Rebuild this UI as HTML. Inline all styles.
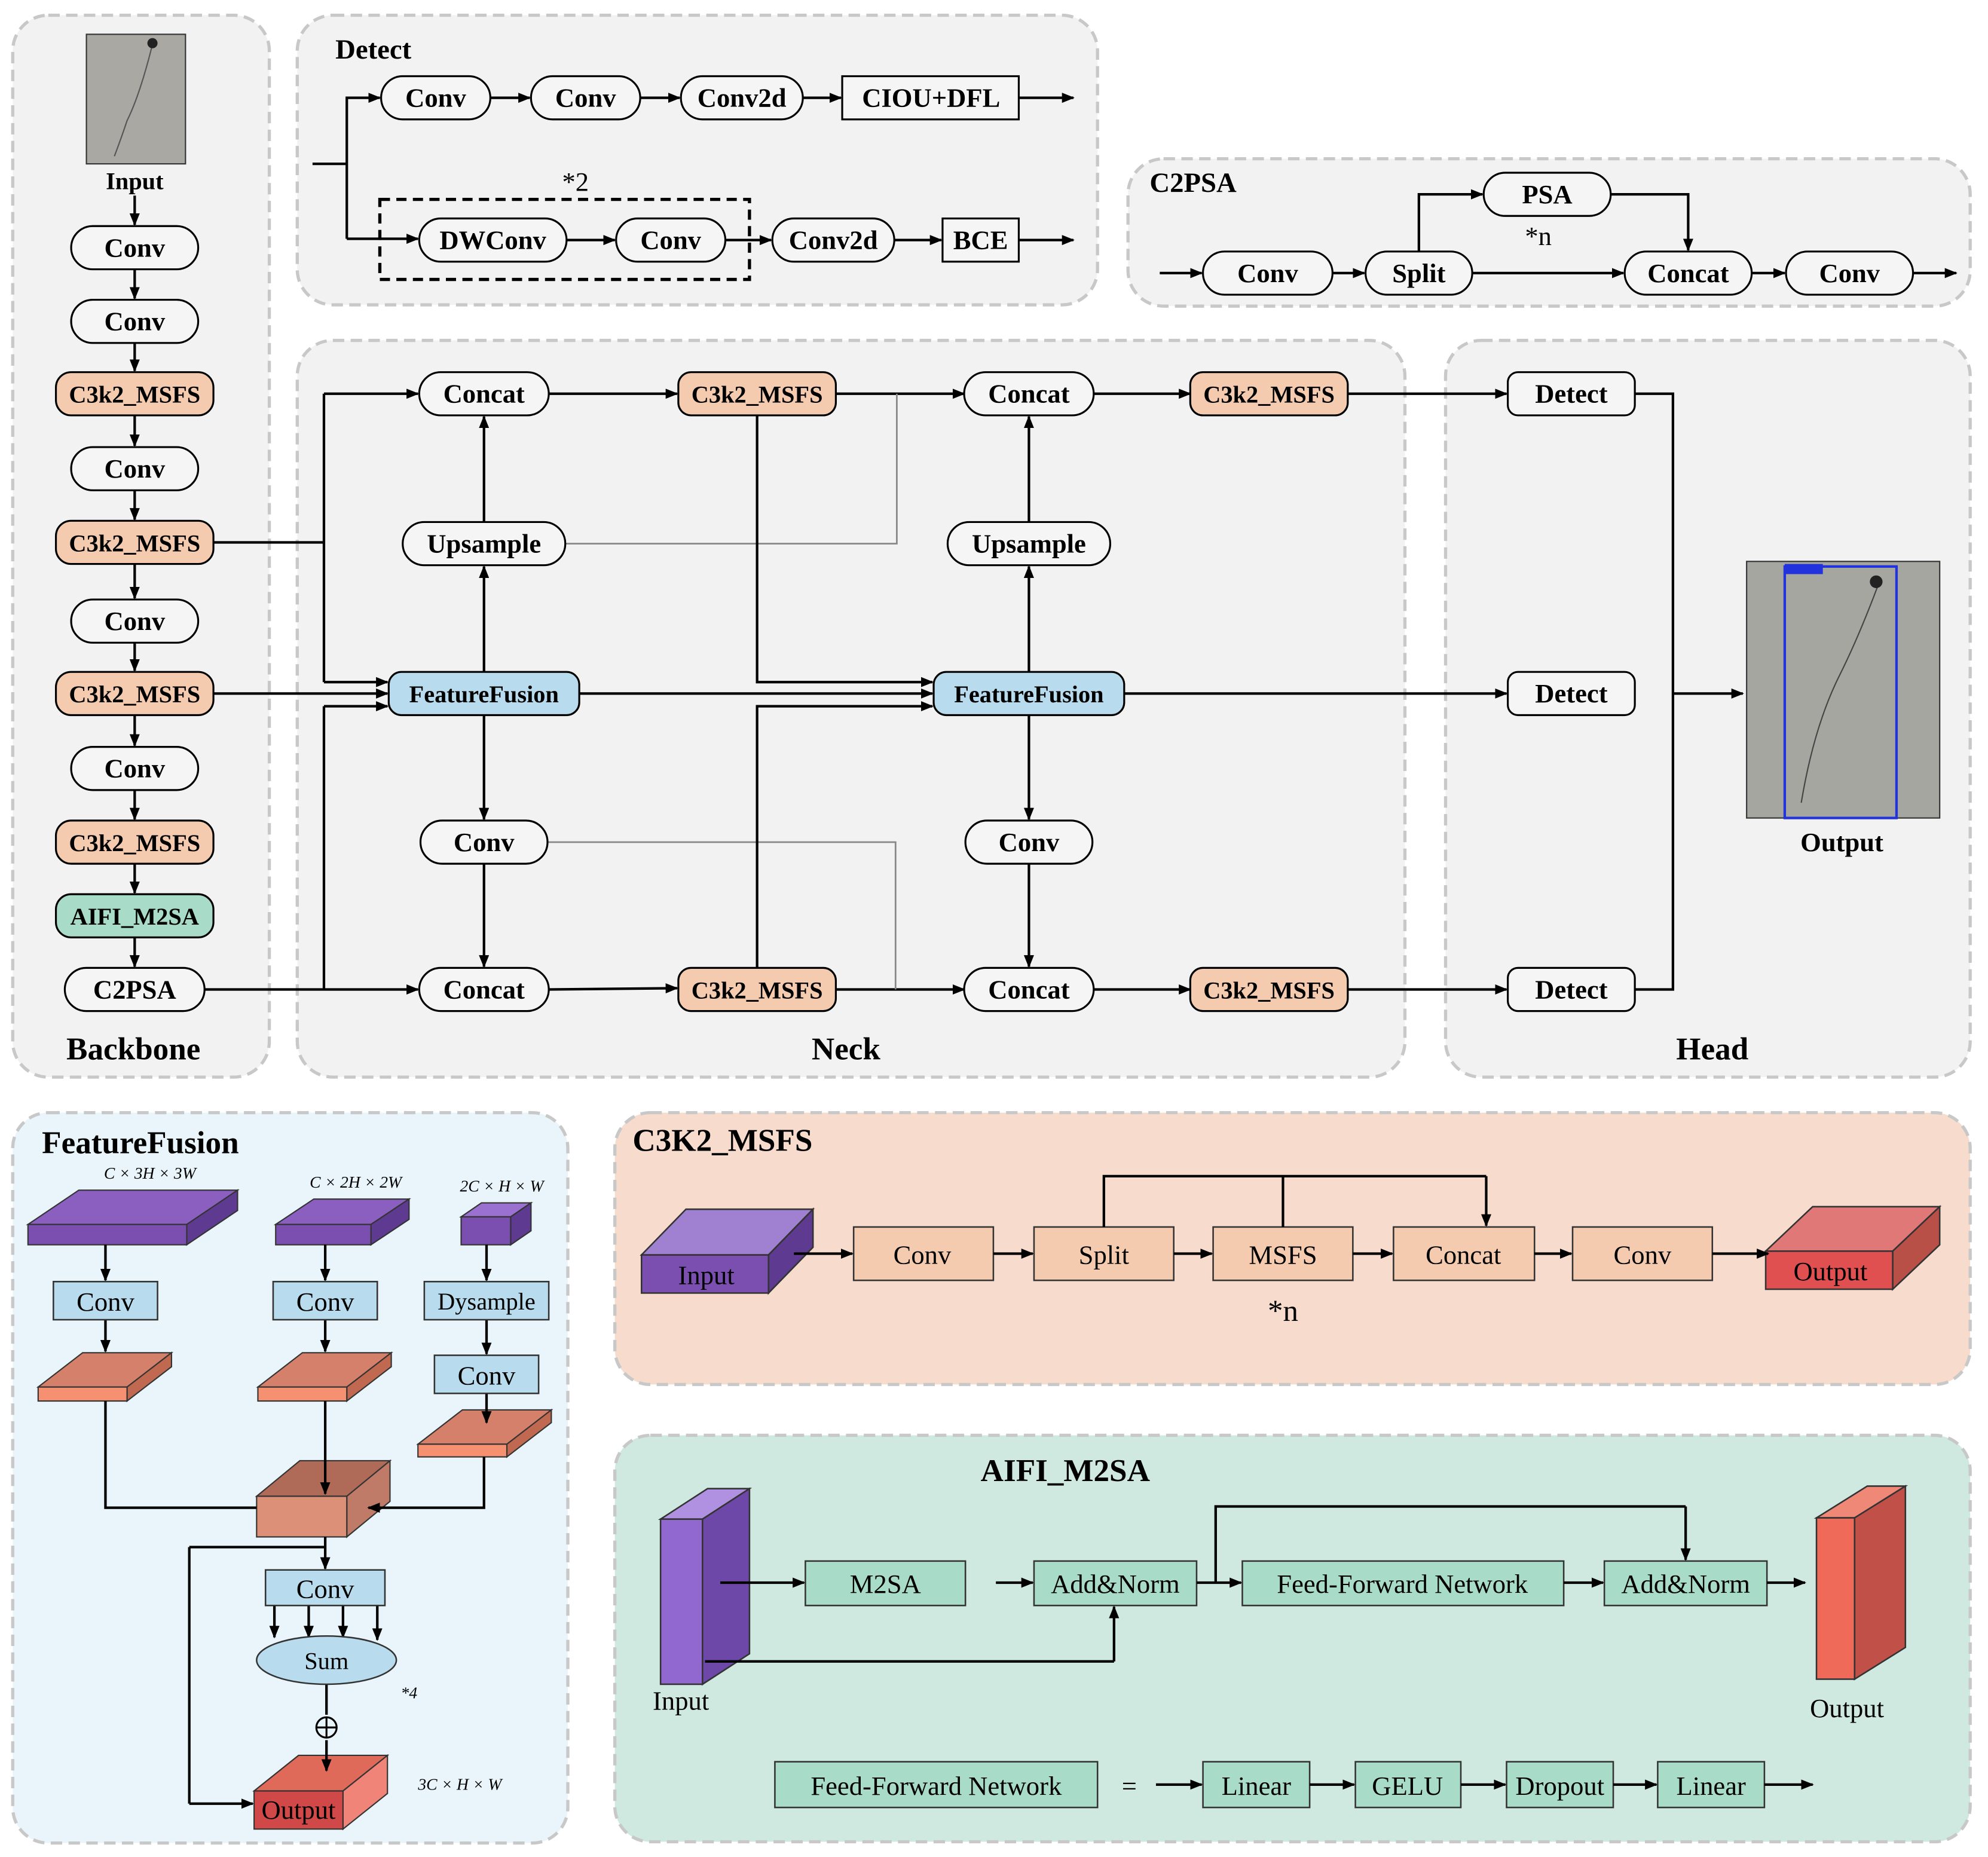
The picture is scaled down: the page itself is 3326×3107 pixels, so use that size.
<!DOCTYPE html>
<html><head><meta charset="utf-8"><style>
html,body{margin:0;padding:0;background:#fff}
svg{display:block}
text{font-family:"Liberation Serif",serif}
.n{font-weight:bold;font-size:21px;text-anchor:middle}
.r{font-size:21px;text-anchor:middle}
.t{font-weight:bold;font-size:24px}
.l{stroke:#000;stroke-width:2;fill:none}
.g{stroke:#888;stroke-width:1.3;fill:none}
.a{stroke:#000;stroke-width:2;fill:none;marker-end:url(#ar)}
</style></head><body>
<svg width="3326" height="3107" viewBox="0 0 1565 1462" xmlns="http://www.w3.org/2000/svg">
<defs><marker id="ar" markerWidth="10" markerHeight="8" refX="9" refY="4" orient="auto" markerUnits="userSpaceOnUse"><path d="M0,0 L10,4 L0,8 z" fill="#000"/></marker></defs>
<rect width="1565" height="1462" fill="#fff"/>
<!-- panels -->
<g stroke="#c8c8c8" stroke-width="2.5" stroke-dasharray="9,5" fill="#f2f2f2">
<rect x="10" y="12" width="202" height="836" rx="28"/>
<rect x="234" y="12" width="630" height="228" rx="28"/>
<rect x="888" y="125" width="663" height="116" rx="28"/>
<rect x="234" y="268" width="872" height="580" rx="28"/>
<rect x="1138" y="268" width="413" height="580" rx="28"/>
<rect x="10" y="876" width="437" height="575" rx="28" fill="#e9f5fa"/>
<rect x="484" y="876" width="1067" height="214" rx="28" fill="#f7dccd"/>
<rect x="484" y="1130" width="1067" height="320" rx="28" fill="#cfe8e0"/>
</g>
<!-- Backbone -->
<rect x="68" y="27" width="78" height="102" fill="#a9a8a3" stroke="#333"/>
<path d="M120,35 q-10,40 -20,60 q-5,15 -10,28" stroke="#555" fill="none"/>
<circle cx="120" cy="34" r="4" fill="#222"/>
<text class="n" x="106" y="149" style="font-size:19px">Input</text>
<g>
<path class="a" d="M106,154 V177"/><path class="a" d="M106,212 V235"/><path class="a" d="M106,270 V292"/>
<path class="a" d="M106,327 V351"/><path class="a" d="M106,386 V409"/><path class="a" d="M106,444 V471"/>
<path class="a" d="M106,506 V528"/><path class="a" d="M106,563 V587"/><path class="a" d="M106,622 V645"/>
<path class="a" d="M106,680 V703"/><path class="a" d="M106,738 V761"/>
</g>
<g stroke="#000" stroke-width="1.5">
<rect x="56" y="178" width="100" height="34" rx="17" fill="#f5f5f5"/>
<rect x="56" y="236" width="100" height="34" rx="17" fill="#f5f5f5"/>
<rect x="44" y="293" width="124" height="34" rx="12" fill="#f5cbb0"/>
<rect x="56" y="352" width="100" height="34" rx="17" fill="#f5f5f5"/>
<rect x="44" y="410" width="124" height="34" rx="12" fill="#f5cbb0"/>
<rect x="56" y="472" width="100" height="34" rx="17" fill="#f5f5f5"/>
<rect x="44" y="529" width="124" height="34" rx="12" fill="#f5cbb0"/>
<rect x="56" y="588" width="100" height="34" rx="17" fill="#f5f5f5"/>
<rect x="44" y="646" width="124" height="34" rx="12" fill="#f5cbb0"/>
<rect x="44" y="704" width="124" height="34" rx="12" fill="#a8dcc8"/>
<rect x="51" y="762" width="110" height="34" rx="17" fill="#f5f5f5"/>
</g>
<text class="n" x="106" y="202">Conv</text><text class="n" x="106" y="260">Conv</text>
<text class="n" x="106" y="317" style="font-size:19px">C3k2_MSFS</text><text class="n" x="106" y="376">Conv</text>
<text class="n" x="106" y="434" style="font-size:19px">C3k2_MSFS</text><text class="n" x="106" y="496">Conv</text>
<text class="n" x="106" y="553" style="font-size:19px">C3k2_MSFS</text><text class="n" x="106" y="612">Conv</text>
<text class="n" x="106" y="670" style="font-size:19px">C3k2_MSFS</text><text class="n" x="106" y="728" style="font-size:19px">AIFI_M2SA</text>
<text class="n" x="106" y="786">C2PSA</text>
<text class="n" x="105" y="834" style="font-size:25px">Backbone</text>
<!-- Detect panel -->
<text class="t" x="264" y="46" style="font-weight:bold;font-size:22px">Detect</text>
<path class="l" d="M246,129 H273 M273,76 V188"/>
<path class="a" d="M273,77 H299"/><path class="a" d="M273,188 H329"/>
<path class="a" d="M386,77 H417"/><path class="a" d="M504,77 H535"/><path class="a" d="M632,77 H662"/><path class="a" d="M802,77 H845"/>
<path class="a" d="M446,189 H484"/><path class="a" d="M571,189 H607"/><path class="a" d="M704,189 H741"/><path class="a" d="M802,189 H845"/>
<rect x="299" y="157" width="291" height="63" fill="none" stroke="#000" stroke-width="2.5" stroke-dasharray="8,5"/>
<text class="r" x="453" y="150">*2</text>
<g stroke="#000" stroke-width="1.5" fill="#f5f5f5">
<rect x="300" y="60" width="86" height="34" rx="17"/><rect x="418" y="60" width="86" height="34" rx="17"/>
<rect x="536" y="60" width="96" height="34" rx="17"/><rect x="663" y="60" width="139" height="34"/>
<rect x="330" y="172" width="116" height="34" rx="17"/><rect x="485" y="172" width="86" height="34" rx="17"/>
<rect x="608" y="172" width="96" height="34" rx="17"/><rect x="742" y="172" width="60" height="34"/>
</g>
<text class="n" x="343" y="84">Conv</text><text class="n" x="461" y="84">Conv</text><text class="n" x="584" y="84">Conv2d</text><text class="n" x="733" y="84">CIOU+DFL</text>
<text class="n" x="388" y="196">DWConv</text><text class="n" x="528" y="196">Conv</text><text class="n" x="656" y="196">Conv2d</text><text class="n" x="772" y="196">BCE</text>
<!-- C2PSA -->
<text x="905" y="151" style="font-weight:bold;font-size:22px">C2PSA</text>
<path class="a" d="M913,215 H946"/><path class="a" d="M1049,215 H1074"/><path class="a" d="M1159,215 H1278"/>
<path class="a" d="M1379,215 H1405"/><path class="a" d="M1506,215 H1540"/>
<path class="a" d="M1117,198 V153 H1167"/><path class="a" d="M1268,153 H1329 V197"/>
<text class="r" x="1211" y="193">*n</text>
<g stroke="#000" stroke-width="1.5" fill="#f5f5f5">
<rect x="947" y="198" width="102" height="34" rx="17"/><rect x="1075" y="198" width="84" height="34" rx="17"/>
<rect x="1279" y="198" width="100" height="34" rx="17"/><rect x="1406" y="198" width="100" height="34" rx="17"/>
<rect x="1168" y="136" width="100" height="34" rx="17"/>
</g>
<text class="n" x="998" y="222">Conv</text><text class="n" x="1117" y="222">Split</text><text class="n" x="1329" y="222">Concat</text><text class="n" x="1456" y="222">Conv</text><text class="n" x="1218" y="160">PSA</text>
<!-- Neck connections -->
<path class="l" d="M168,427 H255 M255,310 V537 M161,779 H255 M255,556 V779"/>
<path class="a" d="M255,310 H329"/><path class="a" d="M255,537 H305"/><path class="a" d="M168,546 H305"/><path class="a" d="M255,556 H305"/>
<path class="a" d="M255,779 H329"/>
<path class="a" d="M381,529 V446"/><path class="a" d="M381,411 V328"/><path class="a" d="M381,563 V645"/><path class="a" d="M381,680 V761"/>
<path class="a" d="M810,529 V446"/><path class="a" d="M810,411 V328"/><path class="a" d="M810,563 V645"/><path class="a" d="M810,680 V761"/>
<path class="a" d="M432,310 H533"/><path class="a" d="M658,310 H759"/><path class="a" d="M861,310 H937"/><path class="a" d="M1061,310 H1186"/>
<path class="a" d="M432,779 L533,778"/><path class="a" d="M658,779 H759"/><path class="a" d="M861,779 H937"/><path class="a" d="M1061,779 H1186"/>
<path class="g" d="M706,310 V428 H445"/><path class="g" d="M431,663 H705 V779"/>
<path class="a" d="M596,327 V537 H734"/><path class="a" d="M456,546 H734"/><path class="a" d="M596,762 V556 H734"/>
<path class="a" d="M885,546 H1186"/>
<path class="l" d="M1287,310 H1317 V779 H1287"/><path class="a" d="M1317,546 H1372"/>
<g stroke="#000" stroke-width="1.5">
<g fill="#f5f5f5">
<rect x="330" y="293" width="102" height="34" rx="17"/><rect x="759" y="293" width="102" height="34" rx="17"/>
<rect x="317" y="411" width="128" height="34" rx="17"/><rect x="746" y="411" width="128" height="34" rx="17"/>
<rect x="331" y="646" width="100" height="34" rx="17"/><rect x="760" y="646" width="100" height="34" rx="17"/>
<rect x="330" y="762" width="102" height="34" rx="17"/><rect x="759" y="762" width="102" height="34" rx="17"/>
<rect x="1187" y="293" width="100" height="34" rx="8"/><rect x="1187" y="529" width="100" height="34" rx="8"/><rect x="1187" y="762" width="100" height="34" rx="8"/>
</g>
<g fill="#f5cbb0">
<rect x="534" y="293" width="124" height="34" rx="10"/><rect x="937" y="293" width="124" height="34" rx="10"/>
<rect x="534" y="762" width="124" height="34" rx="10"/><rect x="937" y="762" width="124" height="34" rx="10"/>
</g>
<rect x="306" y="529" width="150" height="34" rx="10" fill="#b8dced"/><rect x="735" y="529" width="150" height="34" rx="10" fill="#b8dced"/>
</g>
<text class="n" x="381" y="317">Concat</text><text class="n" x="810" y="317">Concat</text>
<text class="n" x="381" y="435">Upsample</text><text class="n" x="810" y="435">Upsample</text>
<text class="n" x="381" y="670">Conv</text><text class="n" x="810" y="670">Conv</text>
<text class="n" x="381" y="786">Concat</text><text class="n" x="810" y="786">Concat</text>
<text class="n" x="596" y="317" style="font-size:19px">C3k2_MSFS</text><text class="n" x="999" y="317" style="font-size:19px">C3k2_MSFS</text>
<text class="n" x="596" y="786" style="font-size:19px">C3k2_MSFS</text><text class="n" x="999" y="786" style="font-size:19px">C3k2_MSFS</text>
<text class="n" x="381" y="553" style="font-size:19px">FeatureFusion</text><text class="n" x="810" y="553" style="font-size:19px">FeatureFusion</text>
<text class="n" x="1237" y="317">Detect</text><text class="n" x="1237" y="553">Detect</text><text class="n" x="1237" y="786">Detect</text>
<text class="n" x="666" y="834" style="font-size:25px">Neck</text><text class="n" x="1348" y="834" style="font-size:25px">Head</text>
<rect x="1375" y="442" width="152" height="202" fill="#a6a6a0" stroke="#333"/>
<rect x="1405" y="446" width="88" height="198" fill="none" stroke="#2233dd" stroke-width="2"/>
<rect x="1405" y="444" width="30" height="8" fill="#2233dd"/>
<path d="M1478,462 q-15,40 -30,70 q-20,40 -30,100" stroke="#444" fill="none"/>
<circle cx="1477" cy="458" r="5" fill="#222"/>
<text class="n" x="1450" y="670">Output</text>
<!-- FeatureFusion detail -->
<text x="33" y="908" style="font-weight:bold;font-size:25px">FeatureFusion</text>
<g font-style="italic" font-size="13" text-anchor="middle">
<text x="118" y="928">C × 3H × 3W</text><text x="280" y="935">C × 2H × 2W</text><text x="395" y="938">2C × H × W</text><text x="362" y="1409">3C × H × W</text><text x="322" y="1337">*4</text>
</g>
<g stroke="#333" stroke-width="1">
<polygon points="22,964 62,937 187,937 147,964" fill="#8a5fc0"/><polygon points="147,964 187,937 187,953 147,980" fill="#5e3a90"/><rect x="22" y="964" width="125" height="16" fill="#7a4fb0"/>
<polygon points="217,964 247,944 322,944 292,964" fill="#8a5fc0"/><polygon points="292,964 322,944 322,960 292,980" fill="#5e3a90"/><rect x="217" y="964" width="75" height="16" fill="#7a4fb0"/>
<polygon points="363,958 379,947 418,947 402,958" fill="#9a70d0"/><polygon points="402,958 418,947 418,969 402,980" fill="#5e3a90"/><rect x="363" y="958" width="39" height="22" fill="#7a4fb0"/>
<polygon points="30,1092 65,1065 135,1065 100,1092" fill="#d4806a"/><polygon points="100,1092 135,1065 135,1076 100,1103" fill="#c06850"/><rect x="30" y="1092" width="70" height="11" fill="#f59070"/>
<polygon points="203,1092 238,1065 308,1065 273,1092" fill="#d4806a"/><polygon points="273,1092 308,1065 308,1076 273,1103" fill="#c06850"/><rect x="203" y="1092" width="70" height="11" fill="#f59070"/>
<polygon points="329,1137 364,1110 434,1110 399,1137" fill="#d4806a"/><polygon points="399,1137 434,1110 434,1120 399,1147" fill="#c06850"/><rect x="329" y="1137" width="70" height="10" fill="#f59070"/>
<polygon points="202,1178 236,1150 307,1150 273,1178" fill="#b06a58"/><polygon points="273,1178 307,1150 307,1182 273,1210" fill="#c07a68"/><rect x="202" y="1178" width="71" height="32" fill="#dc9078"/>
<polygon points="200,1410 235,1382 305,1382 270,1410" fill="#e06a5a"/><polygon points="270,1410 305,1382 305,1412 270,1440" fill="#f08478"/><rect x="200" y="1410" width="70" height="30" fill="#d04848"/>
</g>
<path class="a" d="M83,980 V1008"/><path class="a" d="M256,980 V1008"/><path class="a" d="M383,980 V1008"/>
<path class="a" d="M83,1039 V1064"/><path class="a" d="M256,1039 V1064"/><path class="a" d="M383,1039 V1066"/><path class="a" d="M383,1097 V1120"/>
<path class="l" d="M83,1103 V1187 H202"/><path class="a" d="M256,1103 V1176"/><path class="a" d="M381,1147 V1187 H290"/>
<path class="l" d="M256,1210 V1218 M149,1218 H256 M149,1218 V1420"/><path class="a" d="M149,1420 H199"/>
<path class="a" d="M256,1218 V1235"/>
<path class="a" d="M216,1264 V1289"/><path class="a" d="M243,1264 V1289"/><path class="a" d="M270,1264 V1289"/><path class="a" d="M297,1264 V1291"/>
<path class="l" d="M257,1326 V1350"/><path class="a" d="M257,1370 V1394"/>
<circle cx="257" cy="1360" r="8" fill="none" stroke="#000" stroke-width="1.5"/><path d="M249,1360 H265 M257,1352 V1368" stroke="#000" stroke-width="1.5"/>
<g stroke="#333" stroke-width="1.2" fill="#b8dced">
<rect x="42" y="1009" width="82" height="30"/><rect x="215" y="1009" width="82" height="30"/>
<rect x="334" y="1009" width="98" height="30"/><rect x="342" y="1067" width="82" height="30"/>
<rect x="209" y="1236" width="94" height="28"/><ellipse cx="257" cy="1307" rx="55" ry="19"/>
</g>
<text class="r" x="83" y="1032">Conv</text><text class="r" x="256" y="1032">Conv</text><text class="r" x="383" y="1031" style="font-size:19px">Dysample</text>
<text class="r" x="383" y="1090">Conv</text><text class="r" x="256" y="1258">Conv</text><text class="r" x="257" y="1314" style="font-size:19px">Sum</text>
<text class="r" x="235" y="1432">Output</text>
<!-- C3K2_MSFS detail -->
<text x="498" y="906" style="font-weight:bold;font-size:25px">C3K2_MSFS</text>
<g stroke="#333" stroke-width="1.2">
<polygon points="505,988 540,952 640,952 605,988" fill="#a080d0"/><polygon points="605,988 640,952 640,982 605,1018" fill="#5e3a90"/><rect x="505" y="988" width="100" height="30" fill="#7a4fb0"/>
<polygon points="1390,985 1427,950 1527,950 1490,985" fill="#e07878"/><polygon points="1490,985 1527,950 1527,980 1490,1015" fill="#b85048"/><rect x="1390" y="985" width="100" height="30" fill="#e05050"/>
<g fill="#f5cbb0">
<rect x="672" y="966" width="110" height="42"/><rect x="814" y="966" width="110" height="42"/><rect x="955" y="966" width="110" height="42"/>
<rect x="1097" y="966" width="111" height="42"/><rect x="1238" y="966" width="110" height="42"/>
</g></g>
<path class="a" d="M625,987 H671"/><path class="a" d="M782,987 H813"/><path class="a" d="M924,987 H954"/><path class="a" d="M1065,987 H1096"/><path class="a" d="M1208,987 H1237"/><path class="a" d="M1348,987 H1392"/>
<path class="l" d="M869,966 V926 H1170 M1010,926 V966"/><path class="a" d="M1170,926 V965"/>
<text class="r" x="556" y="1011">Input</text><text class="r" x="726" y="995">Conv</text><text class="r" x="869" y="995">Split</text>
<text class="r" x="1010" y="995">MSFS</text><text class="r" x="1152" y="995">Concat</text><text class="r" x="1293" y="995">Conv</text>
<text class="r" x="1441" y="1008">Output</text><text class="r" x="1010" y="1040" style="font-size:24px">*n</text>
<!-- AIFI -->
<text x="772" y="1166" style="font-weight:bold;font-size:25px">AIFI_M2SA</text>
<g stroke="#333" stroke-width="1.2">
<polygon points="520,1196 557,1172 590,1172 553,1196" fill="#b090e0"/><polygon points="553,1196 590,1172 590,1302 553,1326" fill="#6e48a8"/><rect x="520" y="1196" width="33" height="130" fill="#9068d0"/>
<polygon points="1430,1195 1470,1170 1500,1170 1460,1195" fill="#f08878"/><polygon points="1460,1195 1500,1170 1500,1297 1460,1322" fill="#c05048"/><rect x="1430" y="1195" width="30" height="127" fill="#f06a5a"/>
<g fill="#a8dcc8">
<rect x="634" y="1229" width="126" height="35"/><rect x="814" y="1229" width="128" height="35"/><rect x="978" y="1229" width="253" height="35"/><rect x="1263" y="1229" width="128" height="35"/>
<rect x="610" y="1387" width="254" height="36"/><rect x="947" y="1387" width="84" height="36"/><rect x="1067" y="1387" width="83" height="36"/><rect x="1186" y="1387" width="84" height="36"/><rect x="1305" y="1387" width="84" height="36"/>
</g></g>
<path class="a" d="M567,1246 H633"/><path class="a" d="M784,1246 H813"/><path class="a" d="M942,1246 H977"/><path class="a" d="M1231,1246 H1262"/><path class="a" d="M1391,1246 H1421"/>
<path class="l" d="M957,1246 V1186 H1327"/><path class="a" d="M1327,1186 V1228"/>
<path class="l" d="M555,1308 H877"/><path class="a" d="M877,1308 V1265"/>
<path class="a" d="M910,1405 H946"/><path class="a" d="M1031,1405 H1066"/><path class="a" d="M1150,1405 H1185"/><path class="a" d="M1270,1405 H1304"/><path class="a" d="M1389,1405 H1427"/>
<text class="r" x="697" y="1254">M2SA</text><text class="r" x="878" y="1254">Add&amp;Norm</text><text class="r" x="1104" y="1254">Feed-Forward Network</text><text class="r" x="1327" y="1254">Add&amp;Norm</text>
<text class="r" x="536" y="1346">Input</text><text class="r" x="1454" y="1352">Output</text>
<text class="r" x="737" y="1413">Feed-Forward Network</text><text class="r" x="889" y="1413">=</text>
<text class="r" x="989" y="1413">Linear</text><text class="r" x="1108" y="1413">GELU</text><text class="r" x="1228" y="1413">Dropout</text><text class="r" x="1347" y="1413">Linear</text>
</svg>
</body></html>
